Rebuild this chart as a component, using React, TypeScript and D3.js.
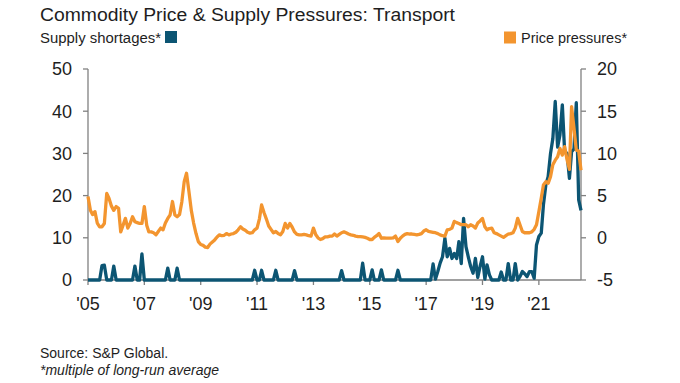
import React from 'react';
import * as d3 from 'd3';

// Monthly data, Jan 2005 – Jul 2022
const START = new Date(2005, 0, 1);

// Supply shortages* (left axis)
const supplyShortages = [
  0, 0, 0, 0, 0, 0, 3.4, 3.5, 0, 0, 0, 3.3,
  0, 0, 0, 0, 0, 0, 0, 0, 3.3, 0, 0, 6.2,
  0, 0, 0, 0, 0, 0, 0, 0, 0, 0, 2.8, 0,
  0, 0, 2.8, 0, 0, 0, 0, 0, 0, 0, 0, 0,
  0, 0, 0, 0, 0, 0, 0, 0, 0, 0, 0, 0,
  0, 0, 0, 0, 0, 0, 0, 0, 0, 0, 0, 2.3,
  0, 0, 2.3, 0, 0, 0, 0, 0, 2.3, 0, 0, 0,
  0, 0, 0, 0, 2.2, 0, 0, 0, 0, 0, 0, 0,
  0, 0, 0, 0, 0, 0, 0, 0, 0, 0, 0, 0,
  2.2, 0, 0, 0, 0, 0, 0, 0, 0, 4.0, 0, 0,
  0, 2.4, 0, 0, 0, 2.4, 0, 0, 0, 0, 0, 0,
  2.3, 0, 0, 0, 0, 0, 0, 0, 0, 0, 0, 0,
  0, 0, 0, 3.8, 0.2, 2, 4, 5.5, 9.9, 5.5, 7.5, 5.1,
  6.3, 5.1, 9.1, 3.9, 14.6, 7.9, 5.5, 3.2, 1.6, 5.1, 0.6, 3.2,
  5.5, 0.2, 3.6, 1.2, 0, 0, 0, 0, 1.9, 0, 0, 3.9,
  0, 0, 3.9, 0, 0.8, 2, 1.5, 0.8, 2, 2, 0.4, 8.3,
  10.3, 11.1, 17.8, 22.5, 24.5, 30, 33.5, 42.3, 31.5, 34.4, 41.5, 30.4,
  30, 24.1, 30.4, 31, 42, 19, 16.5,
];

// Price pressures* (right axis)
const pricePressures = [
  4.9, 3.25, 2.75, 3.1, 1.75, 1.3, 1.3, 1.7, 5.25, 4.65, 3.75, 3.25,
  3.7, 3.5, 0.7, 1.5, 2.3, 1.15, 1.7, 2.5, 1.9, 1.8, 1.7, 1.7,
  3.7, 1.5, 0.7, 0.7, 0.6, 0.35, 0.75, 1.15, 0.95, 1.75, 2.3, 2.7,
  4.3, 2.7, 2.5, 2.75, 4.25, 6.65, 7.65, 5.5, 3.25, 1.75, 0.5, -0.45,
  -0.8, -0.9, -1.1, -1.15, -0.75, -0.5, -0.25, 0.1, 0.35, 0.25, 0.3, 0.5,
  0.35, 0.45, 0.5, 0.65, 0.95, 1.3, 1.05, 0.9, 0.65, 0.55, 0.6, 0.95,
  1.15, 2.25, 3.9, 3, 2.25, 1.4, 1, 0.6, 0.75, 0.5, 0.35, 0.75,
  1.7, 1.15, 1.7, 1.25, 0.7, 0.4, 0.35, 0.35, 0.4, 0.35, 0.25, 0.2,
  1.15, 0.35, 0, -0.2, -0.1, 0.1, 0.1, 0.2, 0.2, 0.45, 0.2, 0.4,
  0.6, 0.7, 0.6, 0.45, 0.35, 0.3, 0.2, 0.15, 0.15, 0.1, 0.05, -0.05,
  -0.2, -0.2, 0.05, 0.25, 0.5, -0.05, 0, -0.05, -0.05, -0.05, 0, 0.2,
  -0.45, -0.05, 0.2, 0.4, 0.5, 0.45, 0.45, 0.4, 0.35, 0.4, 0.5, 0.8,
  0.95, 0.75, 0.7, 0.65, 0.6, 0.5, 0.35, 0.25, 0.2, 0.95, 1, 1.15,
  1.95, 1.8, 1.7, 1.55, 1.55, 1.55, 1.3, 1.55, 1.4, 1.15, 1.75, 2,
  2.3, 1.3, 0.95, 1.1, 1.15, 0.6, 0.5, 0.35, 0.2, 0.05, 0.25, 0.45,
  0.5, 0.6, 1.15, 2.3, 1.55, 0.75, 0.6, 0.6, 0.6, 0.7, 1, 1.55,
  3.1, 4.7, 6.25, 6.65, 6.45, 7.25, 8.65, 9.2, 9.6, 10.6, 9.8, 10.8,
  9.25, 8.1, 15.55, 13, 10.4, 10.25, 8,
];

const leftTicks = [0, 10, 20, 30, 40, 50];
const rightTicks = [-5, 0, 5, 10, 15, 20];
const xTickYears = [2005, 2007, 2009, 2011, 2013, 2015, 2017, 2019, 2021];
const xTickLabels = ["'05", "'07", "'09", "'11", "'13", "'15", "'17", "'19", "'21"];

const TEAL = '#0c5573';
const ORANGE = '#f3952f';
const AXIS = '#808080';
const TEXT = '#1e1e1e';
const FONT = '"Liberation Sans", Arial, sans-serif';

export default function App() {
  const left = 88, right = 581, top = 69, bottom = 280;
  const end = d3.timeMonth.offset(START, supplyShortages.length - 1);
  const x = d3.scaleTime().domain([START, end]).range([left, right]);
  const yL = d3.scaleLinear().domain([0, 50]).range([bottom, top]);
  const yR = d3.scaleLinear().domain([-5, 20]).range([bottom, top]);
  const date = (i: number) => d3.timeMonth.offset(START, i);

  const supplyLine = d3.line<number>().x((_, i) => x(date(i))).y((d) => yL(d))(supplyShortages) || '';
  const priceLine = d3.line<number>().x((_, i) => x(date(i))).y((d) => yR(d))(pricePressures) || '';

  return (
    <svg width={680} height={383} style={{ position: 'absolute', left: 0, top: 0, background: '#fff' }} fontFamily={FONT}>
      <rect width={680} height={383} fill="#fff" />
      <text x={40} y={21} fontSize={17.5} fill={TEXT} textLength={415} lengthAdjust="spacingAndGlyphs">
        Commodity Price &amp; Supply Pressures: Transport
      </text>
      <text x={40} y={42.5} fontSize={14} fill={TEXT} textLength={121} lengthAdjust="spacingAndGlyphs">Supply shortages*</text>
      <rect x={165} y={31} width={12} height={12} fill={TEAL} />
      <rect x={504} y={31.5} width={12} height={12} fill={ORANGE} />
      <text x={521} y={42.5} fontSize={14} fill={TEXT} textLength={106} lengthAdjust="spacingAndGlyphs">Price pressures*</text>

      {/* axes */}
      <line x1={left} x2={left} y1={top} y2={bottom} stroke={AXIS} strokeWidth={1.3} />
      <line x1={right} x2={right} y1={top} y2={bottom} stroke={AXIS} strokeWidth={1.3} />
      <line x1={left} x2={right} y1={bottom} y2={bottom} stroke={AXIS} strokeWidth={1.3} />
      {leftTicks.map((t) => (
        <g key={'l' + t}>
          <line x1={left - 5} x2={left} y1={yL(t)} y2={yL(t)} stroke={AXIS} strokeWidth={1.3} />
          <text x={72} y={yL(t)} dy="0.35em" fontSize={18} textAnchor="end" fill={TEXT}>{t}</text>
        </g>
      ))}
      {rightTicks.map((t) => (
        <g key={'r' + t}>
          <line x1={right} x2={right + 5} y1={yR(t)} y2={yR(t)} stroke={AXIS} strokeWidth={1.3} />
          <text x={597} y={yR(t)} dy="0.35em" fontSize={18} textAnchor="start" fill={TEXT}>{t}</text>
        </g>
      ))}
      {xTickYears.map((yr, i) => {
        const xx = x(new Date(yr, 0, 1));
        return (
          <g key={'x' + yr}>
            <line x1={xx} x2={xx} y1={bottom} y2={bottom + 5} stroke={AXIS} strokeWidth={1.3} />
            <text x={xx} y={309.5} fontSize={18} textAnchor="middle" fill={TEXT}>{xTickLabels[i]}</text>
          </g>
        );
      })}

      <path d={supplyLine} fill="none" stroke={TEAL} strokeWidth={3.3} strokeLinejoin="round" />
      <path d={priceLine} fill="none" stroke={ORANGE} strokeWidth={3.3} strokeLinejoin="round" />

      <text x={40} y={358} fontSize={14} fill={TEXT}>Source: S&amp;P Global.</text>
      <text x={40} y={375} fontSize={14} fill={TEXT} fontStyle="italic">*multiple of long-run average</text>
    </svg>
  );
}
